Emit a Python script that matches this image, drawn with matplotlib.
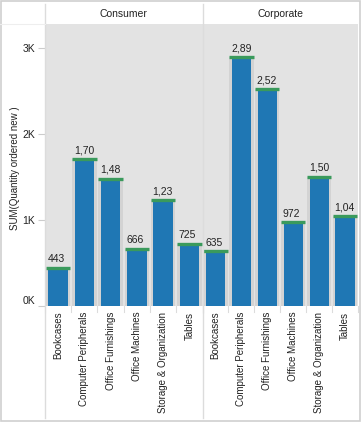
import matplotlib.pyplot as plt
import numpy as np

plt.rcParams['font.family'] = ['Liberation Sans', 'DejaVu Sans']

segments = ['Consumer', 'Corporate']
categories = ['Bookcases', 'Computer Peripherals', 'Office Furnishings',
              'Office Machines', 'Storage & Organization', 'Tables']
consumer = [443, 1705, 1482, 666, 1232, 725]
corporate = [635, 2893, 2524, 972, 1503, 1045]
labels_consumer = ['443', '1,70', '1,48', '666', '1,23', '725']
labels_corporate = ['635', '2,89', '2,52', '972', '1,50', '1,04']

W, H = 361, 422
fig = plt.figure(figsize=(W / 100, H / 100), dpi=100)
fig.patch.set_facecolor('white')

blue = '#1f77b4'
green = '#3a9a5c'
band = '#d3d3d3'
bg = '#e3e3e3'
line = '#dcdcdc'

x0, x1, xm = 45, 358, 202.5
ytop, ybot = 24, 306
ymax = 3280

def fx(px):
    return px / W

def fy(py):
    return 1 - py / H

panels = [(x0, xm, consumer, labels_consumer), (xm, x1, corporate, labels_corporate)]
for i, (a, b, vals, labs) in enumerate(panels):
    ax = fig.add_axes([fx(a), fy(ybot), fx(b - a), (ybot - ytop) / H])
    ax.set_facecolor(bg)
    x = np.arange(len(categories))
    ax.bar(x, vals, width=0.94, color=band, zorder=1)
    ax.bar(x, vals, width=0.74, color=blue, zorder=2)
    ax.hlines(vals, x - 0.47, x + 0.47, color=green, lw=2.4, zorder=3)
    for xi, v, t in zip(x, vals, labs):
        ax.text(xi - 0.4, v + 45, t, ha='left', va='bottom', fontsize=7.5, color='#222222')
    ax.set_xlim(-0.5, len(categories) - 0.5)
    ax.set_ylim(0, ymax)
    ax.set_xticks(x)
    ax.set_xticklabels(categories, rotation=90, fontsize=7, color='#222222')
    ax.tick_params(axis='x', length=0, pad=4)
    for s in ax.spines.values():
        s.set_visible(False)
    if i == 0:
        ax.set_yticks([0, 1000, 2000, 3000])
        ax.set_yticklabels(['0K', '1K', '2K', '3K'], fontsize=7.5, color='#222222')
        ax.tick_params(axis='y', length=5, color='#cccccc', pad=2)
        lab = ax.get_yticklabels()[0]
        lab.set_va('bottom')
    else:
        ax.set_yticks([])
    # separators under the axis
    for k in range(len(categories) + 1):
        xs = a + (b - a) * k / len(categories)
        fig.add_artist(plt.Line2D([fx(xs), fx(xs)], [fy(ybot), fy(ybot + 6)], color=line, lw=0.8))
    fig.text(fx((a + b) / 2), fy(14), segments[i], ha='center', va='center', fontsize=7.5, color='#222222')

fig.text(fx(15), fy(168), 'SUM(Quantity ordered new )', rotation=90, ha='center', va='center',
         fontsize=7, color='#222222')

# frame lines
for xs in [x0 - 0.5, xm]:
    fig.add_artist(plt.Line2D([fx(xs), fx(xs)], [fy(4), fy(418)], color=line, lw=1.0))
fig.add_artist(plt.Line2D([0, fx(x0)], [fy(ytop), fy(ytop)], color='#eeeeee', lw=0.8))
fig.add_artist(plt.Rectangle((0.002, 0.002), 0.995, 0.995, transform=fig.transFigure,
                             fill=False, edgecolor='#cfcfcf', lw=1.2))

fig.savefig('out.png', dpi=100)
